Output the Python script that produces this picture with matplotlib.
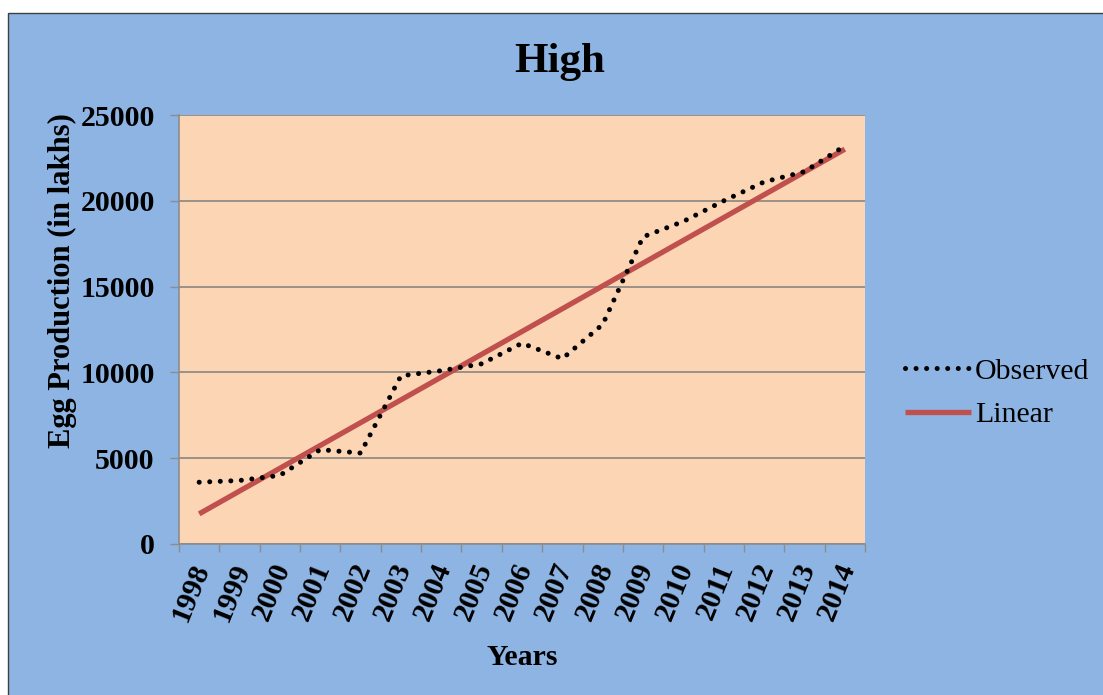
import numpy as np
import matplotlib
matplotlib.use("Agg")
import matplotlib.pyplot as plt
from matplotlib.patches import Rectangle
from matplotlib.transforms import ScaledTranslation

# egg production per year (lakhs)
years = [str(y) for y in range(1998, 2015)]
observed = [3600, 3700, 4000, 5500, 5300, 9800, 10100, 10500, 11700,
            10800, 12800, 17900, 18800, 20000, 21100, 21700, 23200]
y_ticks = [0, 5000, 10000, 15000, 20000, 25000]

plt.rcParams['font.family'] = ['Liberation Serif', 'DejaVu Serif']

W, H = 1103, 695
fig = plt.figure(figsize=(W / 100, H / 100), dpi=100, facecolor='white')

# blue chart area with thin frame
fig.patches.append(Rectangle((8 / W, -0.1), 1.2, (H - 13) / H + 0.1,
                             transform=fig.transFigure, facecolor='#8DB4E2',
                             edgecolor='#404040', linewidth=1, zorder=-10))

ax = fig.add_axes([179 / W, 1 - 544 / H, (865 - 179) / W, (544 - 115) / H])
ax.set_facecolor('#FCD5B4')

x = np.arange(len(years))
# linear trend line fitted to the observed series
slope, icpt = np.polyfit(x, observed, 1)
trend = slope * x + icpt

ax.plot(x, observed, color='black', linewidth=3.6, linestyle=(0, (0.01, 2.1)),
        dash_capstyle='round', label='Observed', zorder=3)
ax.plot(x, trend, color='#C0504D', linewidth=3.8, solid_capstyle='butt',
        label='Linear', zorder=2)

ax.set_xlim(-0.5, len(years) - 0.5)
ax.set_ylim(0, 25000)
ax.set_yticks(y_ticks)
ax.set_yticklabels([str(v) for v in y_ticks], fontsize=21.5, fontweight='bold')
ax.grid(axis='y', color='#8A8580', linewidth=1.2)
ax.set_axisbelow(True)

ax.set_xticks(x)
ax.set_xticklabels(years, fontsize=21.5, fontweight='bold', rotation=68,
                   ha='center', va='top')
ax.set_xticks(np.arange(-0.5, len(years)), minor=True)
ax.tick_params(axis='x', which='major', length=0, pad=11)
ax.tick_params(axis='x', which='minor', length=6, color='#8C8C8C', width=1)
ax.tick_params(axis='y', length=6.5, color='#8C8C8C', width=1, pad=11)
for lbl in ax.get_xticklabels():
    lbl.set_transform(lbl.get_transform() + ScaledTranslation(-0.08, 0, fig.dpi_scale_trans))

for s in ['top', 'right']:
    ax.spines[s].set_visible(False)
for s in ['left', 'bottom']:
    ax.spines[s].set_color('#8C8C8C')
    ax.spines[s].set_linewidth(1.2)

fig.text(560 / W, 1 - 72 / H, 'High', fontsize=31, fontweight='bold',
         ha='center', va='baseline')
fig.text(62 / W, 1 - 281 / H, 'Egg Production (in lakhs)', fontsize=22,
         fontweight='bold', rotation=90, ha='center', va='center')
fig.text(522 / W, 1 - 665 / H, 'Years', fontsize=21.5, fontweight='bold',
         ha='center', va='baseline')

fig.legend(loc='center left', bbox_to_anchor=(905 / W, 1 - 393 / H),
           frameon=False, fontsize=21.5, handlelength=2.2, handletextpad=0.15,
           labelspacing=0.55, borderpad=0, borderaxespad=0)

fig.savefig('out.png', dpi=100, facecolor=fig.get_facecolor())
